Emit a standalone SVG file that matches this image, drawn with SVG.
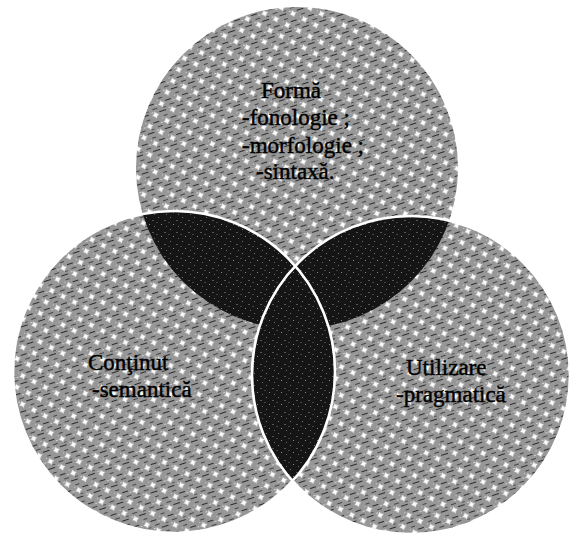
<svg xmlns="http://www.w3.org/2000/svg" width="574" height="539" viewBox="0 0 574 539">
  <style>
    .lbl { font-family: "Liberation Serif", "Times New Roman", serif; font-size: 23px; fill: #000; stroke: #000; stroke-width: 0.45; }
    .outline { fill: none; stroke: #fff; stroke-width: 2.6; }
  </style>
  <defs>
    <pattern id="light" width="18" height="18" patternUnits="userSpaceOnUse" patternTransform="rotate(-18)">
      <rect width="18" height="18" fill="#979797"/>
      <rect x="0" y="2" width="6" height="1" fill="#2a2a2a"/>
      <rect x="9" y="11" width="7" height="1" fill="#2a2a2a"/>
      <rect x="3" y="7" width="5" height="1" fill="#444"/>
      <rect x="12" y="16" width="4" height="1" fill="#444"/>
      <rect x="14" y="8" width="3" height="1" fill="#555"/>
      <rect x="10" y="0" width="1" height="1" fill="#d0d0d0"/>
      <rect x="1" y="10" width="2" height="1" fill="#d5d5d5"/>
      <rect x="7" y="4" width="2" height="1" fill="#cfcfcf"/>
      <path d="M4.5 10 L5.8 12.2 L8 13.5 L5.8 14.8 L4.5 17 L3.2 14.8 L1 13.5 L3.2 12.2 Z" fill="#fff"/>
      <path d="M13.5 1 L14.8 3.2 L17 4.5 L14.8 5.8 L13.5 8 L12.2 5.8 L10 4.5 L12.2 3.2 Z" fill="#fff"/>
    </pattern>
    <pattern id="dark" width="12" height="12" patternUnits="userSpaceOnUse">
      <rect width="12" height="12" fill="#151515"/>
      <rect x="2" y="1" width="1" height="1" fill="#777"/>
      <rect x="8" y="4" width="2" height="1" fill="#555"/>
      <rect x="5" y="8" width="1" height="1" fill="#888"/>
      <rect x="10" y="10" width="1" height="1" fill="#666"/>
      <rect x="0" y="6" width="2" height="1" fill="#444"/>
    </pattern>
    <clipPath id="clipT"><circle cx="297" cy="168" r="161"/></clipPath>
    <clipPath id="clipL"><circle cx="174" cy="372" r="161"/></clipPath>
  </defs>

  <g id="node-forma">
    <circle cx="297" cy="168" r="161" fill="url(#light)"/>
  </g>
  <g id="node-continut">
    <circle cx="174" cy="372" r="161" fill="url(#light)"/>
  </g>
  <g id="node-utilizare">
    <circle cx="411" cy="375" r="159" fill="url(#light)"/>
  </g>

  <g id="overlaps">
    <circle cx="174" cy="372" r="161" fill="url(#dark)" clip-path="url(#clipT)"/>
    <circle cx="411" cy="375" r="159" fill="url(#dark)" clip-path="url(#clipT)"/>
    <circle cx="411" cy="375" r="159" fill="url(#dark)" clip-path="url(#clipL)"/>
  </g>

  <g id="outlines">
    <circle class="outline" cx="411" cy="375" r="159"/>
    <circle class="outline" cx="174" cy="372" r="161"/>
  </g>

  <g id="labels">
    <text class="lbl" x="261" y="98">Formă</text>
    <text class="lbl" x="242" y="125">-fonologie ;</text>
    <text class="lbl" x="242" y="153">-morfologie ;</text>
    <text class="lbl" x="256" y="179">-sintaxă.</text>
    <text class="lbl" x="88" y="370">Conţinut</text>
    <text class="lbl" x="92" y="397">-semantică</text>
    <text class="lbl" x="406" y="375">Utilizare</text>
    <text class="lbl" x="396" y="402">-pragmatică</text>
  </g>
</svg>
